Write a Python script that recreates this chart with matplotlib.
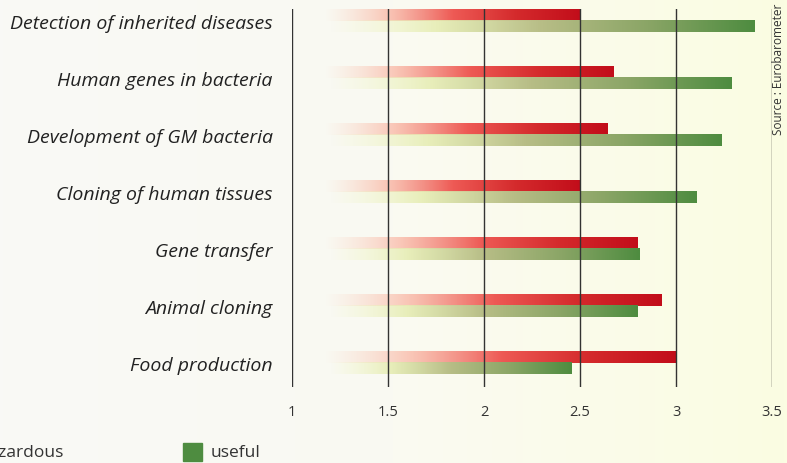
import numpy as np
import matplotlib.pyplot as plt
from matplotlib.colors import LinearSegmentedColormap, to_rgba
from matplotlib.patches import Rectangle

# dados
categorias = ['Detection of inherited diseases', 'Human genes in bacteria',
              'Development of GM bacteria', 'Cloning of human tissues',
              'Gene transfer', 'Animal cloning', 'Food production']
hazardous = [2.50, 2.67, 2.64, 2.50, 2.80, 2.92, 3.00]
useful = [3.41, 3.29, 3.24, 3.11, 2.81, 2.80, 2.46]
xticks = [1, 1.5, 2, 2.5, 3, 3.5]
xtick_labels = ['1', '1.5', '2', '2.5', '3', '3.5']

inicio_vermelho = 1.17
inicio_verde = 1.20
altura_barra = 0.195

cmap_vermelho = LinearSegmentedColormap.from_list('verm', [
    to_rgba('#fbd3c0', 0.0), to_rgba('#f9b7a6', 0.8), to_rgba('#ee5a55', 1.0),
    to_rgba('#d42a2c', 1.0), to_rgba('#c20d1a', 1.0)])
cmap_verde = LinearSegmentedColormap.from_list('verde', [
    to_rgba('#f3f7c8', 0.0), to_rgba('#e6edb4', 0.9), to_rgba('#b7bd86', 1.0),
    to_rgba('#8aa566', 1.0), to_rgba('#4e8c40', 1.0)])

fig = plt.figure(figsize=(7.87, 4.64), dpi=100)

# fundo levemente amarelado
fundo = fig.add_axes([0, 0, 1, 1], zorder=-10)
grad = np.linspace(0, 1, 256).reshape(1, -1)
fundo.imshow(grad, aspect='auto', extent=[0, 1, 0, 1],
             cmap=LinearSegmentedColormap.from_list('bg', ['#f9f9f6', '#fafaf2', '#fbfde2']))
fundo.axis('off')

ax = fig.add_axes([292 / 787, 1 - 388 / 464, 480 / 787, 378 / 464])
ax.patch.set_alpha(0)

gradiente = np.linspace(0, 1, 256).reshape(1, -1)
for i in range(len(categorias)):
    ax.imshow(gradiente, cmap=cmap_vermelho, aspect='auto', interpolation='bilinear',
              extent=[inicio_vermelho, hazardous[i], i, i - altura_barra], zorder=2)
    ax.imshow(gradiente, cmap=cmap_verde, aspect='auto', interpolation='bilinear',
              extent=[inicio_verde, useful[i], i + altura_barra, i], zorder=2)

for x in xticks:
    ax.axvline(x, color='#333333', lw=1.0, zorder=3)

ax.set_xlim(1, 3.5)
ax.set_ylim(6.42, -0.21)
ax.set_xticks(xticks)
ax.set_xticklabels(xtick_labels, fontsize=10.5, color='#333333', family='Open Sans')
ax.set_yticks(range(len(categorias)))
ax.set_yticklabels(categorias, fontsize=14, style='italic', color='#222222', family='Open Sans')
ax.tick_params(axis='both', length=0)
ax.tick_params(axis='x', pad=12)
ax.tick_params(axis='y', pad=14)
for s in ax.spines.values():
    s.set_visible(False)

# legenda na parte de baixo (parcialmente cortada como no original)
fig.patches.append(Rectangle((-50 / 787, 1 - 462 / 464), 19 / 787, 18 / 464,
                             transform=fig.transFigure, color='#c8141e', figure=fig))
fig.text(-21 / 787, 1 - 453 / 464, 'hazardous', fontsize=12.5, color='#333333',
         va='center', ha='left', family='Open Sans')
fig.patches.append(Rectangle((183 / 787, 1 - 462 / 464), 19 / 787, 18 / 464,
                             transform=fig.transFigure, color='#4e8c40', figure=fig))
fig.text(211 / 787, 1 - 453 / 464, 'useful', fontsize=12.5, color='#333333',
         va='center', ha='left', family='Open Sans')

fig.text(779 / 787, 1 - 4 / 464, 'Source : Eurobarometer', rotation=90, fontsize=8.5,
         color='#333333', va='top', ha='center', family='Open Sans')

fig.savefig('out.png', dpi=100, facecolor=fig.get_facecolor())
